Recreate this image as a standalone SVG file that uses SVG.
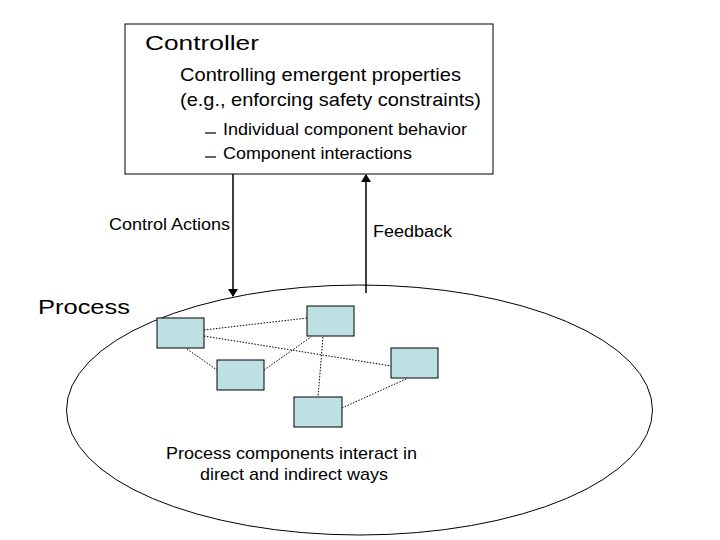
<svg xmlns="http://www.w3.org/2000/svg" width="720" height="540" viewBox="0 0 720 540">
<style>
text{font-family:"Liberation Sans",Arial,sans-serif;fill:#000}
.comp{fill:#bde0e3;stroke:#000;stroke-width:1}
.dot{stroke:#000;stroke-width:1;stroke-dasharray:1.5 1.5;fill:none}
.arr{stroke:#000;stroke-width:1.5;fill:none;marker-end:url(#ah)}
</style>
<defs><marker id="ah" markerWidth="8" markerHeight="10" refX="7" refY="5" orient="auto" markerUnits="userSpaceOnUse"><path d="M0,0 L8,5 L0,10 z" fill="#000"/></marker></defs>
<rect width="720" height="540" fill="#fff"/>
<g id="process">
<ellipse cx="359.5" cy="410" rx="293" ry="125" fill="#fff" stroke="#000"/>
<text x="38" y="314" font-size="21" textLength="92" lengthAdjust="spacingAndGlyphs">Process</text>
<text x="166" y="459" font-size="17" textLength="251" lengthAdjust="spacingAndGlyphs">Process components interact in</text>
<text x="200" y="480" font-size="17" textLength="188" lengthAdjust="spacingAndGlyphs">direct and indirect ways</text>
</g>
<g id="controller">
<rect x="125" y="24" width="368" height="150" fill="#fff" stroke="#000"/>
<text x="145" y="50" font-size="21" textLength="114" lengthAdjust="spacingAndGlyphs">Controller</text>
<text x="180" y="81" font-size="19" textLength="281" lengthAdjust="spacingAndGlyphs">Controlling emergent properties</text>
<text x="180" y="106" font-size="19" textLength="301" lengthAdjust="spacingAndGlyphs">(e.g., enforcing safety constraints)</text>
<line x1="205" y1="133" x2="216" y2="133" stroke="#000" stroke-width="1.2"/>
<line x1="205" y1="157" x2="216" y2="157" stroke="#000" stroke-width="1.2"/>
<text x="223" y="135" font-size="16.5" textLength="244" lengthAdjust="spacingAndGlyphs">Individual component behavior</text>
<text x="223" y="159" font-size="16.5" textLength="189" lengthAdjust="spacingAndGlyphs">Component interactions</text>
</g>
<g id="connectors">
<line class="arr" x1="233" y1="174" x2="233" y2="296"/>
<line class="arr" x1="366" y1="293" x2="366" y2="175"/>
<text x="109" y="230" font-size="16" textLength="121" lengthAdjust="spacingAndGlyphs">Control Actions</text>
<text x="373" y="237" font-size="16" textLength="79" lengthAdjust="spacingAndGlyphs">Feedback</text>
<path class="dot" d="M204,330 L307,318 M204,336 L391,366 M187,349 L217,370 M264,370 L311,337 M323,337 L318,397 M342,408 L406,379"/>
</g>
<g id="c1"><rect class="comp" x="157" y="318" width="47" height="30"/></g>
<g id="c2"><rect class="comp" x="307" y="306" width="47" height="30"/></g>
<g id="c3"><rect class="comp" x="217" y="360" width="47" height="30"/></g>
<g id="c4"><rect class="comp" x="391" y="348" width="47" height="30"/></g>
<g id="c5"><rect class="comp" x="294" y="397" width="48" height="30"/></g>
</svg>
